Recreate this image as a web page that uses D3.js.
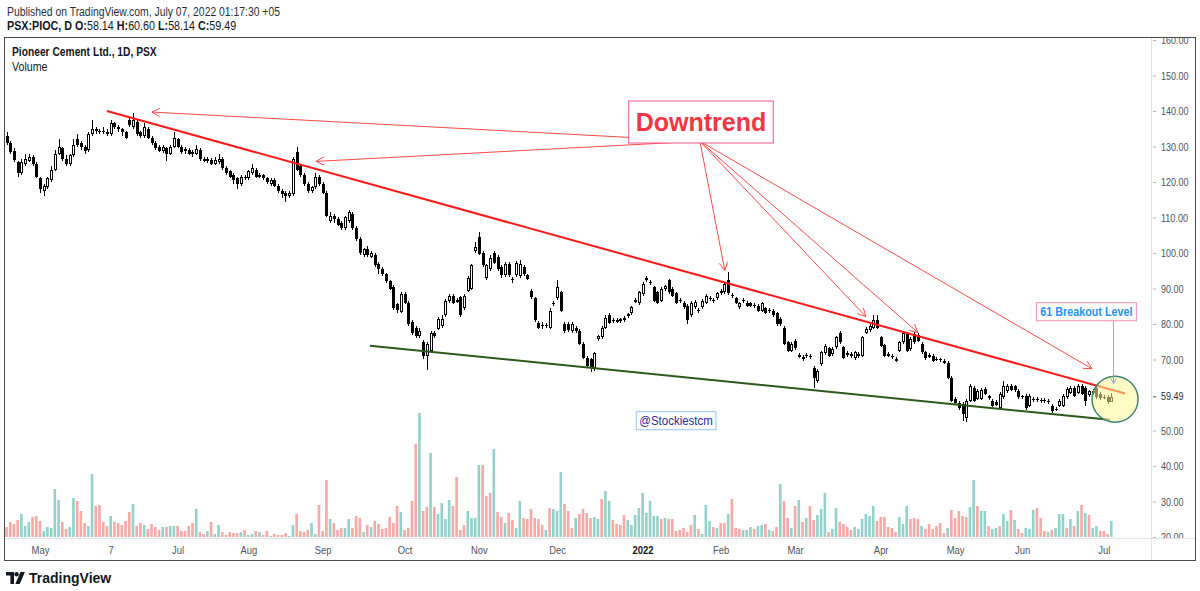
<!DOCTYPE html>
<html>
<head>
<meta charset="utf-8">
<script src="https://cdn.jsdelivr.net/npm/d3@7"></script>
<style>
  body { margin: 0; background: #fff; }
  svg { display: block; font-family: "Liberation Sans", Arial, sans-serif; }
</style>
</head>
<body>
<div id="chart"></div>
<script>
// PSX:PIOC daily candles, Apr 2021 - Jul 2022
const opens = [
  133.0,131.0,128.8,125.5,122.5,125.0,126.0,127.0,125.0,121.0,
  117.5,118.5,120.5,123.5,128.0,129.5,126.5,125.0,127.5,132.0,
  131.0,130.0,129.0,133.5,135.0,134.5,134.5,134.2,133.5,136.5,
  135.5,134.8,134.0,137.5,135.5,137.0,134.0,133.0,135.0,132.5,
  131.0,130.0,128.8,129.5,128.0,130.0,132.0,130.0,129.3,129.0,
  128.5,127.8,129.0,126.5,125.8,126.3,125.2,125.5,126.5,124.0,
  123.0,122.0,121.0,119.5,121.5,121.0,122.5,123.5,121.5,122.0,
  121.0,119.5,120.5,119.0,117.5,117.0,116.0,116.5,128.5,124.5,
  122.0,119.5,117.5,118.5,121.5,119.5,117.0,109.0,110.5,109.5,
  108.5,107.0,109.0,111.0,107.0,104.0,99.5,101.0,99.0,99.5,
  97.0,95.5,94.0,92.0,90.5,85.5,83.5,88.5,86.0,80.5,
  79.0,76.5,75.0,71.0,72.5,77.5,78.7,79.5,82.4,86.6,
  88.0,86.8,87.5,84.5,89.4,90.0,100.5,104.4,100.0,93.0,
  95.6,100.0,99.0,96.0,93.7,97.0,92.8,93.7,93.5,96.0,
  93.7,89.4,87.2,80.4,79.8,79.3,79.0,85.5,87.2,88.9,
  80.0,80.0,78.0,79.0,78.0,74.5,70.5,70.0,67.7,75.8,
  76.2,79.0,82.4,80.8,81.2,80.8,81.0,82.3,83.0,86.3,
  85.8,88.5,92.4,91.9,90.3,88.9,86.6,89.8,92.3,90.0,
  88.6,86.8,86.0,85.2,82.4,84.7,84.0,84.7,86.0,87.4,
  86.5,87.2,89.4,88.9,92.3,88.3,87.2,84.7,86.4,86.0,
  85.8,85.0,85.2,83.8,84.4,83.6,83.8,83.0,81.5,79.0,
  74.8,72.5,75.3,71.3,70.8,70.9,71.0,67.7,64.0,68.8,
  71.7,73.1,71.5,73.4,77.6,73.4,71.8,71.5,70.3,71.0,
  71.1,77.6,78.2,79.0,81.0,76.2,74.0,71.5,71.0,70.1,
  72.5,74.8,77.3,73.0,77.3,77.0,74.5,72.0,70.8,71.0,
  70.2,70.0,69.5,69.0,64.9,59.0,57.8,57.5,53.6,58.4,
  62.0,59.0,59.0,61.8,59.6,58.4,58.0,56.4,59.3,61.2,
  62.6,62.4,61.2,59.3,59.8,57.0,58.5,58.8,58.6,58.3,
  58.4,57.0,56.0,57.0,57.0,59.3,60.7,62.0,60.7,62.6,
  62.0,60.0,60.5,62.0,60.4,59.5,59.4,58.14
];
const highs = [
  134.0,131.5,129.5,126.0,126.5,127.8,128.0,127.5,125.5,121.5,
  119.5,121.5,124.5,129.0,132.0,130.0,127.5,128.0,132.0,133.5,
  131.5,130.5,134.0,137.5,135.5,135.0,135.5,134.8,137.5,137.0,
  136.0,135.2,134.5,138.0,139.5,137.5,134.5,136.5,135.5,133.0,
  131.5,130.5,130.5,130.0,130.5,134.0,132.5,130.5,129.8,129.5,
  129.0,130.5,129.5,127.0,127.0,126.8,127.0,128.0,127.0,124.5,
  123.5,122.5,121.5,122.0,122.0,123.5,125.0,124.0,122.5,122.3,
  121.5,121.0,121.0,119.5,118.0,117.5,117.5,127.0,130.0,125.0,
  122.5,120.0,119.0,122.5,122.0,120.0,117.5,111.5,111.0,110.0,
  109.0,110.5,112.0,111.5,107.5,104.5,101.5,102.0,100.5,100.0,
  97.5,96.0,94.5,92.5,91.0,86.0,89.0,89.0,86.5,81.0,
  79.5,79.0,75.5,75.0,78.0,78.0,82.0,82.5,87.0,88.5,
  88.5,87.2,88.0,88.5,93.5,97.0,103.0,106.0,100.5,97.0,
  99.5,100.5,99.5,96.5,97.5,97.5,93.2,97.8,98.0,96.5,
  94.2,90.0,87.7,80.9,80.5,80.3,84.5,86.5,92.5,89.4,
  80.5,80.5,80.5,79.5,78.5,75.0,71.0,70.5,72.2,77.0,
  79.5,82.5,83.0,81.8,81.7,81.8,82.3,83.2,85.2,87.3,
  89.4,91.7,93.5,92.4,90.8,89.4,90.5,91.1,92.8,90.5,
  89.1,87.3,86.5,85.7,86.5,86.8,84.5,87.1,88.5,87.9,
  87.4,89.1,89.9,91.9,94.7,88.8,87.7,86.3,87.3,86.5,
  86.3,85.9,85.7,86.3,84.9,84.5,84.3,83.5,82.0,79.5,
  75.3,75.0,75.8,71.8,71.3,71.8,71.5,68.2,67.4,72.5,
  74.4,73.6,73.5,76.7,78.1,73.9,72.3,72.0,72.5,72.1,
  76.7,79.2,80.0,82.5,82.5,76.7,74.5,72.0,71.5,70.6,
  75.3,78.1,77.8,76.4,77.8,77.5,75.0,72.5,71.7,71.5,
  70.7,70.5,70.0,69.5,65.4,59.5,58.3,58.0,58.9,63.1,
  62.5,61.7,62.0,62.3,60.1,58.9,58.5,60.9,64.0,63.1,
  63.1,62.9,61.7,60.1,60.3,60.3,59.3,59.3,59.1,59.2,
  58.9,57.5,56.5,58.9,60.3,62.3,62.5,62.5,63.1,63.1,
  62.5,61.5,61.7,62.5,60.9,60.0,59.9,60.60
];
const lows = [
  130.5,128.0,125.5,121.5,122.0,124.5,125.5,124.5,121.0,117.0,
  116.0,118.0,120.0,123.0,127.5,126.0,124.5,124.5,127.0,130.0,
  129.0,128.0,128.5,133.0,133.5,133.5,133.5,133.0,133.0,135.0,
  134.0,133.0,132.0,135.5,135.0,133.0,132.5,132.5,132.0,130.5,
  129.0,128.5,128.3,126.0,127.5,129.5,129.5,128.0,128.0,127.5,
  127.0,127.5,126.0,125.5,125.3,124.8,124.8,125.0,123.5,122.0,
  121.0,119.5,118.0,119.0,120.5,120.5,122.0,121.0,121.0,120.5,
  119.5,119.0,118.5,117.0,115.5,114.5,115.5,116.0,123.0,121.5,
  119.0,117.0,117.0,118.0,119.0,116.5,110.0,108.5,108.5,107.5,
  106.5,106.5,108.5,106.5,103.5,99.5,99.0,99.0,98.5,96.0,
  94.0,93.5,91.5,89.5,84.0,83.0,83.0,85.5,79.5,77.0,
  76.0,76.0,70.0,67.0,72.0,76.0,78.2,79.0,82.0,86.0,
  85.5,85.8,82.0,84.0,89.0,89.5,100.0,99.3,96.0,92.5,
  95.0,96.8,95.0,93.0,93.2,93.2,91.5,93.2,93.0,93.5,
  92.3,87.0,80.5,78.5,78.5,78.8,78.5,85.0,86.8,83.3,
  77.5,77.7,77.5,77.5,74.0,70.0,67.8,66.5,66.8,75.3,
  75.7,78.5,80.0,80.3,80.2,80.3,80.5,81.8,82.5,85.8,
  85.3,88.0,91.9,91.0,86.1,85.5,86.1,89.3,88.4,87.5,
  85.5,85.9,84.2,80.0,81.9,84.2,83.1,84.2,85.5,86.5,
  86.0,86.7,88.1,88.4,88.1,87.4,85.5,84.2,85.9,84.7,
  84.7,84.5,83.3,83.3,82.7,83.1,81.9,79.5,79.5,74.0,
  72.0,72.0,72.8,70.3,69.7,70.4,70.1,62.0,63.5,68.3,
  71.2,70.6,71.0,72.9,74.3,70.0,70.8,70.5,69.8,70.5,
  70.6,77.1,77.7,78.5,78.5,73.4,70.6,70.6,70.1,69.2,
  72.0,74.3,72.0,72.5,74.5,74.8,71.5,69.8,70.3,69.2,
  69.5,69.4,68.6,64.4,57.9,57.3,55.9,52.7,52.5,57.9,
  57.9,58.5,58.5,59.9,58.7,56.5,56.8,55.9,58.8,60.7,
  61.0,60.9,58.8,58.8,55.9,56.5,58.0,58.0,57.7,57.8,
  57.6,54.8,55.4,56.5,56.5,58.8,60.2,59.3,60.2,59.9,
  57.0,59.5,60.0,59.0,58.7,58.8,57.6,58.14
];
const closes = [
  131.0,128.5,126.2,122.5,125.5,126.5,127.0,125.0,121.5,118.0,
  118.8,121.0,123.5,128.0,130.0,126.5,125.0,127.5,130.5,130.5,
  129.8,128.8,133.5,135.0,134.3,134.0,134.0,133.5,136.5,135.5,
  134.8,134.0,132.5,136.0,137.5,133.5,133.0,135.5,132.5,131.0,
  129.5,128.8,130.0,127.8,130.0,132.5,130.0,128.5,128.7,128.0,
  127.8,129.3,126.5,126.0,126.5,125.2,126.2,126.5,124.0,122.5,
  121.5,120.5,119.5,121.5,121.0,123.0,124.0,121.5,122.0,121.0,
  120.0,120.5,119.0,117.5,116.5,116.0,116.8,126.5,123.5,122.0,
  119.5,117.5,118.5,121.5,119.5,117.0,110.5,110.5,109.5,108.0,
  107.0,110.0,111.5,107.0,104.0,100.0,101.0,99.5,100.0,96.5,
  95.5,94.0,92.0,90.0,84.5,84.0,88.5,86.0,80.0,77.5,
  76.5,78.0,71.0,74.5,77.5,76.5,81.5,81.5,86.6,88.0,
  86.0,86.2,82.4,88.0,93.0,96.5,101.6,99.8,96.5,96.5,
  98.5,97.3,95.5,93.7,97.0,93.7,92.3,97.3,97.0,94.0,
  92.8,87.5,81.0,79.0,79.3,79.7,83.8,86.0,90.3,83.8,
  78.0,78.2,80.0,78.0,74.5,70.5,68.3,68.0,71.7,76.6,
  79.0,81.8,80.4,81.1,80.7,81.3,81.8,82.7,84.7,86.8,
  88.9,91.2,92.9,91.5,86.6,86.0,90.0,90.6,88.9,88.0,
  86.0,86.4,84.7,81.0,86.0,86.3,83.6,86.6,88.0,87.0,
  86.9,88.6,88.6,91.4,88.6,87.9,86.0,85.8,86.8,85.2,
  85.2,85.4,83.8,85.8,83.2,84.0,82.4,80.0,80.0,74.5,
  72.5,74.5,73.3,70.8,70.2,71.3,70.6,64.9,66.9,72.0,
  73.9,71.1,73.0,76.2,74.8,70.5,71.3,71.0,72.0,71.6,
  76.2,78.7,79.5,81.0,79.0,73.9,71.1,71.1,70.6,69.7,
  74.8,77.6,72.5,75.9,75.0,75.3,72.0,70.3,71.2,69.7,
  70.0,69.9,69.1,64.9,58.4,57.8,56.4,54.7,58.4,62.6,
  58.4,61.2,61.5,60.4,59.2,57.0,57.3,60.4,62.6,62.6,
  61.5,61.4,59.3,59.6,56.4,59.8,58.8,58.5,58.2,58.7,
  58.1,55.6,55.9,58.4,59.8,61.8,62.0,59.8,62.6,60.4,
  58.4,61.0,61.2,59.5,59.2,59.3,58.1,59.49
];
// volume in thousands of shares
const volumes = [
  400,600,520,680,920,440,600,800,840,640,
  240,400,360,1920,1480,600,320,400,1560,1440,
  1040,560,440,2520,1240,1280,600,440,840,600,
  560,480,640,1000,1320,440,560,480,320,520,
  400,280,400,400,440,440,440,240,240,440,
  560,1120,200,120,240,600,120,480,200,80,
  200,160,160,200,280,80,120,240,200,80,
  240,40,120,80,80,160,40,480,920,240,
  200,280,560,120,1280,240,2280,720,560,280,
  360,360,720,360,840,760,200,480,400,640,
  520,320,360,800,560,1240,1000,280,360,1440,
  3720,4960,1040,1200,3360,1200,920,1360,720,1480,
  1240,2400,280,480,1040,760,760,2880,2880,1640,
  1760,3520,1000,800,560,960,680,360,1440,760,
  720,1120,760,720,480,280,1160,1120,1040,2600,
  1320,1040,360,760,920,1120,960,760,800,720,
  1520,1840,1440,680,520,480,880,680,480,880,
  1160,1760,960,1440,840,840,720,760,720,720,
  240,280,360,200,480,880,320,120,1280,640,
  400,360,560,560,920,1520,360,320,280,280,
  400,320,440,480,520,280,240,400,2120,1440,
  760,360,1240,1480,600,760,1240,680,880,1120,
  1760,200,320,1160,600,520,400,280,400,320,
  720,920,840,1240,640,800,800,400,360,200,
  800,520,1240,720,760,720,440,320,520,320,
  440,560,160,360,1080,760,1040,840,800,1200,
  2280,1240,1040,1040,440,320,360,440,920,640,
  1080,680,320,160,360,320,1080,1160,760,240,
  200,280,360,920,920,360,720,440,1040,1280,
  960,880,360,440,240,240,120,640
];
// colour of each volume bar as seen: u = teal, d = red
const volumeDir =
  "dddduuuddd" + "uuuuudduud" + "dduuddddud" + "dddduddudd" + "dduduudddd" +
  "dudduduudd" + "ddduduudud" + "dudddduudd" + "dduudddudd" + "duudddudud" +
  "dddddduddd" + "dudduduuuu" + "dddduuuudd" + "duddudduud" + "ddddduduuu" +
  "dddudddduu" + "duudddduuu" + "uuuuuududd" + "ddddduduuu" + "dudduddduu" +
  "uduududdud" + "dudududduu" + "uduudddduu" + "uuuudddddd" + "uuuddduddd" +
  "dddudddddu" + "uduuduuduu" + "dudduuuddd" + "uduuududud" + "uduudddu";

const priceTicks = [20, 30, 40, 50, 70, 80, 90, 100, 110, 120, 130, 140, 150, 160];
const timeTicks = [9, 28, 46, 65, 85, 107, 127, 148, 171, 192, 212, 235, 255, 273, 295];
const timeLabels = ["May", "7", "Jul", "Aug", "Sep", "Oct", "Nov", "Dec", "2022", "Feb", "Mar", "Apr", "May", "Jun", "Jul"];

// drawings, as [bar index, price]
const resistance = [[27, 140.0], [300.7, 60.4]];
const support = [[97.7, 73.9], [296.6, 53.0]];
const arrowFrom = [186.4, 131.5];
const arrowTargets = [[39.1, 139.7], [83.2, 125.8], [193.1, 95.1], [231.0, 82.1], [245.0, 77.6], [291.8, 67.4]];
const breakoutArrow = [[297.6, 80.9], [297.6, 63.2]];
const circleAt = [298.0, 58.8];
const notes = [
  {text: "Downtrend", at: [186.7, 136.9]},
  {text: "61 Breakout Level", at: [290.3, 83.6]},
  {text: "@Stockiestcm", at: [180.0, 52.9]}
];

const width = 1200, height = 591;
const svg = d3.select("#chart").append("svg")
  .attr("width", width)
  .attr("height", height);

const paneRight = 1151, paneBottom = 538;
const last = closes.length - 1;

const x = d3.scaleLinear().domain([0, last]).range([6.5, 1111.3]);
const y = d3.scaleLinear().domain([20, 160]).range([537, 40]);
const yVol = d3.scaleLinear().domain([0, 5000]).range([537, 412]);
const f2 = d3.format(".2f");

// the source uses a narrow face; squeeze the wide fallback to match
function squeeze(sel, k) {
  sel.each(function () {
    const w = this.getComputedTextLength();
    d3.select(this).attr("textLength", w * k).attr("lengthAdjust", "spacingAndGlyphs");
  });
}

// header
svg.append("text")
  .attr("x", 7).attr("y", 16)
  .attr("font-size", 12.5).attr("fill", "#2a2e39")
  .text("Published on TradingView.com, July 07, 2022 01:17:30 +05")
  .call(squeeze, 0.83);

const legend = svg.append("text")
  .attr("transform", "translate(7,29.5) scale(0.86,1)")
  .attr("font-size", 12.5).attr("fill", "#131722");
[["PSX:PIOC, D ", true], ["O:", true], [f2(opens[last]), false], [" H:", true], [f2(highs[last]), false],
 [" L:", true], [f2(lows[last]), false], [" C:", true], [f2(closes[last]), false]]
  .forEach(p => legend.append("tspan").attr("font-weight", p[1] ? "bold" : "normal").text(p[0]));

// frame
svg.append("rect")
  .attr("x", 4.5).attr("y", 37.5)
  .attr("width", 1191).attr("height", 523)
  .attr("fill", "none").attr("stroke", "#4a4a4a");

svg.append("line")
  .attr("x1", paneRight + 0.5).attr("x2", paneRight + 0.5)
  .attr("y1", 38).attr("y2", 560)
  .attr("stroke", "#e0e3eb");
svg.append("line")
  .attr("x1", 5).attr("x2", 1195)
  .attr("y1", paneBottom + 0.5).attr("y2", paneBottom + 0.5)
  .attr("stroke", "#e0e3eb");

svg.append("text")
  .attr("x", 12).attr("y", 56)
  .attr("font-size", 12.5).attr("font-weight", "bold").attr("fill", "#131722")
  .text("Pioneer Cement Ltd., 1D, PSX")
  .call(squeeze, 0.82);
svg.append("text")
  .attr("x", 12).attr("y", 71)
  .attr("font-size", 12.5).attr("fill", "#131722")
  .text("Volume")
  .call(squeeze, 0.85);

const defs = svg.append("defs");
defs.append("clipPath").attr("id", "pane")
  .append("rect").attr("x", 5).attr("y", 38).attr("width", paneRight - 5).attr("height", paneBottom - 38);
defs.append("clipPath").attr("id", "scale")
  .append("rect").attr("x", 1).attr("y", 38).attr("width", 43).attr("height", paneBottom - 38);

const pane = svg.append("g").attr("clip-path", "url(#pane)");

// volume
pane.append("g").selectAll("rect")
  .data(volumes)
  .join("rect")
  .attr("x", (d, i) => x(i) - 1.3)
  .attr("width", 2.6)
  .attr("y", d => yVol(d))
  .attr("height", d => yVol(0) - yVol(d))
  .attr("fill", (d, i) => volumeDir[i] === "u" ? "#92d2cb" : "#f8a8a5");

// candles
const candles = pane.append("g").attr("shape-rendering", "crispEdges");
closes.forEach((c, i) => {
  const o = opens[i];
  const cx = Math.round(x(i));
  const top = Math.round(y(Math.max(o, c)));
  const bot = Math.max(top + 1, Math.round(y(Math.min(o, c))));
  candles.append("rect")
    .attr("x", cx).attr("width", 1)
    .attr("y", Math.round(y(highs[i])))
    .attr("height", Math.max(1, Math.round(y(lows[i])) - Math.round(y(highs[i]))))
    .attr("fill", "#000");
  candles.append("rect")
    .attr("x", cx - 1).attr("width", 3)
    .attr("y", top).attr("height", bot - top)
    .attr("fill", "#000");
  if (c > o && bot - top > 2) {
    candles.append("rect")
      .attr("x", cx).attr("width", 1)
      .attr("y", top + 1).attr("height", bot - top - 2)
      .attr("fill", "#fff");
  }
});

// trend lines
const line = d3.line().x(d => x(d[0])).y(d => y(d[1]));
pane.append("path").datum(support)
  .attr("d", line)
  .attr("fill", "none").attr("stroke", "#2b5a1a").attr("stroke-width", 2);
pane.append("path").datum(resistance)
  .attr("d", line)
  .attr("fill", "none").attr("stroke", "#ff1a1a").attr("stroke-width", 2);

function chevron(x1, y1, x2, y2, len) {
  const a = Math.atan2(y2 - y1, x2 - x1);
  const s = Math.PI / 6.5;
  return `M${x2 - len * Math.cos(a - s)},${y2 - len * Math.sin(a - s)}L${x2},${y2}L${x2 - len * Math.cos(a + s)},${y2 - len * Math.sin(a + s)}`;
}

const arrows = pane.append("g")
  .attr("fill", "none").attr("stroke", "#ff4a4a").attr("stroke-width", 1);
arrowTargets.forEach(t => {
  const x1 = x(arrowFrom[0]), y1 = y(arrowFrom[1]);
  const x2 = x(t[0]), y2 = y(t[1]);
  arrows.append("line").attr("x1", x1).attr("y1", y1).attr("x2", x2).attr("y2", y2);
  arrows.append("path").attr("d", chevron(x1, y1, x2, y2, 9));
});

// circle round the last bars
pane.append("circle")
  .attr("cx", x(circleAt[0])).attr("cy", y(circleAt[1])).attr("r", 23)
  .attr("fill", "rgba(255,248,150,0.55)")
  .attr("stroke", "#3d8573").attr("stroke-width", 1.5);

{
  const [a, b] = breakoutArrow;
  const x1 = x(a[0]), y1 = y(a[1]), x2 = x(b[0]), y2 = y(b[1]);
  pane.append("line").attr("x1", x1).attr("y1", y1).attr("x2", x2).attr("y2", y2)
    .attr("stroke", "#7fb0ea").attr("stroke-width", 1);
  pane.append("path").attr("d", chevron(x1, y1, x2, y2, 6))
    .attr("fill", "none").attr("stroke", "#7fb0ea").attr("stroke-width", 1);
}

// text notes with boxes
const noteStyle = [
  {size: 25, weight: "bold", color: "#f23645", border: "#f0568a", padX: 7, padY: 7, k: 1},
  {size: 12.5, weight: "bold", color: "#2196f3", border: "#f48fb1", padX: 4, padY: 2, k: 0.86},
  {size: 12.5, weight: "normal", color: "#32289e", border: "#90c4f5", padX: 3, padY: 2, k: 0.92}
];
notes.forEach((n, k) => {
  const st = noteStyle[k];
  const g = pane.append("g");
  const cx = x(n.at[0]), cy = y(n.at[1]);
  const box = g.append("rect");
  const t = g.append("text")
    .attr("x", cx).attr("y", cy)
    .attr("text-anchor", "middle").attr("dy", "0.36em")
    .attr("font-size", st.size).attr("font-weight", st.weight)
    .attr("fill", st.color)
    .text(n.text);
  if (st.k !== 1) t.call(squeeze, st.k);
  const bb = t.node().getBBox();
  box.attr("x", bb.x - st.padX).attr("y", bb.y - st.padY)
    .attr("width", bb.width + 2 * st.padX).attr("height", bb.height + 2 * st.padY)
    .attr("fill", "#fff").attr("stroke", st.border).attr("stroke-width", 1);
});

// price scale
const yAxis = d3.axisRight(y)
  .tickValues(priceTicks)
  .tickFormat(f2)
  .tickSize(4)
  .tickPadding(5);
const ya = svg.append("g")
  .attr("transform", `translate(${paneRight + 1},0)`)
  .attr("clip-path", "url(#scale)")
  .call(yAxis);
ya.select(".domain").remove();
ya.selectAll("line").attr("stroke", "#b2b5be");
ya.selectAll("text").attr("font-size", 11).attr("fill", "#50535e");

const lastTick = ya.append("g").attr("transform", `translate(0,${y(closes[last])})`);
lastTick.append("line").attr("x2", 4).attr("stroke", "#50535e");
lastTick.append("text").attr("x", 9).attr("dy", "0.32em")
  .attr("font-size", 11).attr("fill", "#2a2e39")
  .text(f2(closes[last]));
ya.selectAll("text").call(squeeze, 0.82);

// time scale
const xAxis = d3.axisBottom(x)
  .tickValues(timeTicks)
  .tickFormat((d, i) => timeLabels[i])
  .tickSize(0)
  .tickPadding(8);
const xa = svg.append("g")
  .attr("transform", `translate(0,${paneBottom})`)
  .call(xAxis);
xa.select(".domain").remove();
xa.selectAll("text")
  .attr("font-family", "Liberation Sans, Arial, sans-serif")
  .attr("font-size", 11.5)
  .attr("fill", (d, i) => timeLabels[i] === "2022" ? "#131722" : "#50535e")
  .attr("font-weight", (d, i) => timeLabels[i] === "2022" ? "bold" : "normal")
  .call(squeeze, 0.82);

// TradingView mark
const logo = svg.append("g").attr("fill", "#131722");
logo.append("path").attr("d", "M6,572 h8 v12 h-3.6 v-8.4 h-4.4 z");
logo.append("circle").attr("cx", 16.6).attr("cy", 574.2).attr("r", 2.2);
logo.append("path").attr("d", "M20.5,572 h4.4 l-5.2,12 h-4.4 z");
svg.append("text")
  .attr("x", 29).attr("y", 583)
  .attr("font-size", 14).attr("font-weight", "bold").attr("fill", "#131722")
  .text("TradingView");
</script>
</body>
</html>
